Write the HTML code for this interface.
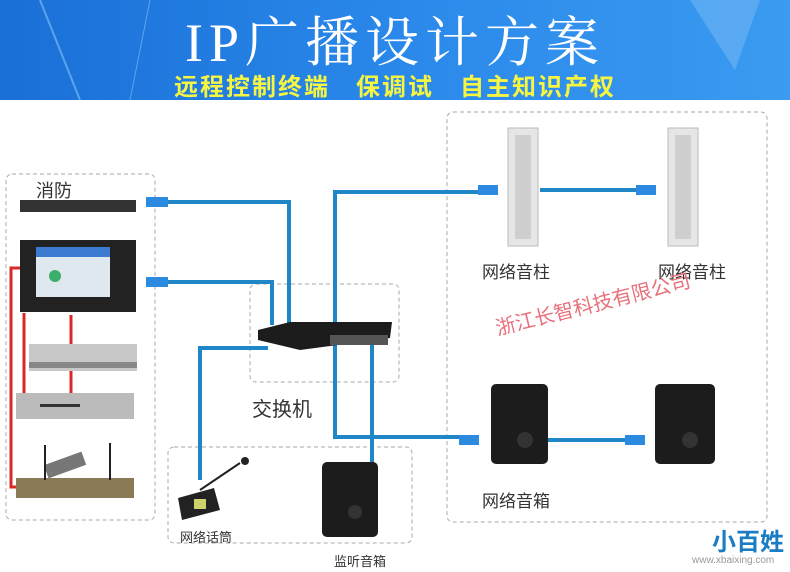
<!DOCTYPE html>
<html><head><meta charset="utf-8"><style>
body{margin:0;width:790px;height:572px;overflow:hidden;background:#fff;font-family:"Liberation Sans","Noto Sans CJK SC",sans-serif;position:relative}
.hdr{position:absolute;left:0;top:0;width:790px;height:100px;background:linear-gradient(90deg,#1a6fd6,#2a88ea 50%,#3a9bf0)}
.t{position:absolute;left:0;width:790px;text-align:center;white-space:nowrap}
.lbl{position:absolute;font-size:17px;color:#333;white-space:nowrap}
</style></head><body>
<div class="hdr"></div>
<svg width="790" height="100" style="position:absolute;left:0;top:0">
<polygon points="690,0 760,0 735,70" fill="#6fb6f5" opacity="0.6"/>
<line x1="40" y1="0" x2="80" y2="100" stroke="#5aa3f0" stroke-width="2"/>
<line x1="150" y1="0" x2="130" y2="100" stroke="#5aa3f0" stroke-width="1"/>
</svg>
<div class="t" style="top:0px;font-size:54px;color:#fff;font-family:'Liberation Serif','Noto Serif CJK SC',serif;letter-spacing:6px">IP广播设计方案</div>
<div class="t" style="top:67px;font-size:24px;color:#f5f542;font-weight:bold;letter-spacing:2px">远程控制终端&nbsp;&nbsp;&nbsp;保调试&nbsp;&nbsp;&nbsp;自主知识产权</div>
<svg width="790" height="572" style="position:absolute;left:0;top:0">
<g fill="none" stroke="#aaa" stroke-dasharray="4,3" stroke-width="1">
<rect x="6" y="174" width="149" height="346" rx="6"/>
<rect x="250" y="284" width="149" height="98" rx="6"/>
<rect x="168" y="447" width="244" height="96" rx="6"/>
<rect x="447" y="112" width="320" height="410" rx="6"/>
</g>
<g fill="none" stroke="#1f86c8" stroke-width="4">
<path d="M168,202 H289 V325"/>
<path d="M168,282 H272 V325"/>
<path d="M335,322 V192 H480"/>
<path d="M540,190 H640"/>
<path d="M335,340 V437 H465"/>
<path d="M548,440 H630"/>
<path d="M372,345 V470"/>
<path d="M268,348 H200 V480"/>
</g>
<g fill="none" stroke="#d8282a" stroke-width="3">
<path d="M22,268 H11 V487 H20"/>
<path d="M24,313 V402"/>
<path d="M71,315 V400"/>
</g>
<g fill="#2c8be0"><rect x="146" y="197" width="22" height="10"/><rect x="146" y="277" width="22" height="10"/><rect x="478" y="185" width="20" height="10"/><rect x="636" y="185" width="20" height="10"/><rect x="459" y="435" width="20" height="10"/><rect x="625" y="435" width="20" height="10"/></g>
<rect x="20" y="200" width="116" height="12" fill="#333"/>
<rect x="20" y="240" width="116" height="72" fill="#222"/>
<rect x="36" y="247" width="74" height="50" fill="#dfe8ee"/>
<rect x="36" y="247" width="74" height="10" fill="#3b7bd0"/>
<circle cx="55" cy="276" r="6" fill="#3cae6a"/>
<rect x="29" y="344" width="108" height="27" fill="#c8c8c8"/>
<rect x="29" y="362" width="108" height="6" fill="#888"/>
<rect x="16" y="393" width="118" height="26" fill="#bbb"/>
<rect x="40" y="404" width="40" height="3" fill="#333"/>
<rect x="16" y="478" width="118" height="20" fill="#8a7a55"/>
<rect x="45" y="458" width="40" height="14" fill="#777" transform="rotate(-20 65 465)"/>
<line x1="45" y1="445" x2="45" y2="480" stroke="#222" stroke-width="2"/><line x1="110" y1="443" x2="110" y2="480" stroke="#222" stroke-width="2"/>
<polygon points="258,330 290,322 392,322 390,338 300,350 258,340" fill="#1c1c1c"/>
<rect x="330" y="335" width="58" height="10" fill="#555"/>
<rect x="508" y="128" width="30" height="118" fill="#e6e6e6" stroke="#bbb"/>
<rect x="515" y="135" width="16" height="104" fill="#cfcfcf"/>
<rect x="668" y="128" width="30" height="118" fill="#e6e6e6" stroke="#bbb"/>
<rect x="675" y="135" width="16" height="104" fill="#cfcfcf"/>
<rect x="491" y="384" width="57" height="80" rx="5" fill="#1c1c1c"/>
<circle cx="525" cy="440" r="8" fill="#333"/>
<rect x="655" y="384" width="60" height="80" rx="5" fill="#1c1c1c"/>
<circle cx="690" cy="440" r="8" fill="#333"/>
<rect x="322" y="462" width="56" height="75" rx="5" fill="#1c1c1c"/>
<circle cx="355" cy="512" r="7" fill="#333"/>
<polygon points="178,498 214,488 220,510 182,520" fill="#222"/>
<rect x="194" y="499" width="12" height="10" fill="#cdd36a"/>
<line x1="200" y1="490" x2="240" y2="463" stroke="#222" stroke-width="2"/>
<circle cx="245" cy="461" r="4" fill="#222"/>
</svg>
<div class="lbl" style="left:36px;top:177px;font-size:18px">消防</div>
<div class="lbl" style="left:252px;top:393px;font-size:20px">交换机</div>
<div class="lbl" style="left:180px;top:527px;font-size:13px">网络话筒</div>
<div class="lbl" style="left:334px;top:551px;font-size:13px">监听音箱</div>
<div class="lbl" style="left:482px;top:258px">网络音柱</div>
<div class="lbl" style="left:658px;top:258px">网络音柱</div>
<div class="lbl" style="left:482px;top:487px">网络音箱</div>
<div class="lbl" style="left:492px;top:313px;font-size:20px;color:#e8707a;transform:rotate(-14deg);transform-origin:left top">浙江长智科技有限公司</div>
<div class="lbl" style="left:712px;top:522px;font-size:24px;color:#1a7cc5;font-weight:bold">小百姓</div>
<div class="lbl" style="left:692px;top:555px;font-size:10px;color:#999">www.xbaixing.com</div>
</body></html>
